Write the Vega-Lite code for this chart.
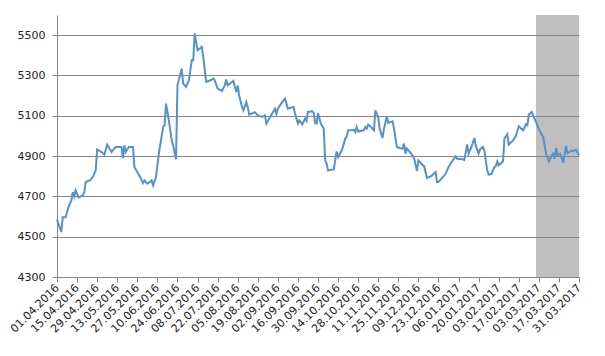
{
  "$schema": "https://vega.github.io/schema/vega-lite/v6.json",
  "autosize": {"type": "none"},
  "width": 522,
  "height": 262,
  "padding": {"left": 57, "top": 15, "right": 26, "bottom": 79},
  "background": "white",
  "config": {
    "view": {"stroke": null},
    "font": "DejaVu Sans",
    "axis": {
      "labelFont": "DejaVu Sans",
      "labelFontSize": 11,
      "labelColor": "#222222",
      "domainColor": "#868686",
      "tickColor": "#868686",
      "gridColor": "#868686",
      "title": null
    }
  },
  "datasets": {
    "shade": [{"date": "2017/03/01", "end": "2017/03/31"}],
    "series": [
      {"date": "2016/04/01", "value": 4586},
      {"date": "2016/04/04", "value": 4522},
      {"date": "2016/04/05", "value": 4597},
      {"date": "2016/04/07", "value": 4597},
      {"date": "2016/04/09", "value": 4647},
      {"date": "2016/04/11", "value": 4680},
      {"date": "2016/04/12", "value": 4721},
      {"date": "2016/04/13", "value": 4700},
      {"date": "2016/04/14", "value": 4730},
      {"date": "2016/04/16", "value": 4695},
      {"date": "2016/04/19", "value": 4705},
      {"date": "2016/04/20", "value": 4720},
      {"date": "2016/04/21", "value": 4771},
      {"date": "2016/04/24", "value": 4779},
      {"date": "2016/04/26", "value": 4796},
      {"date": "2016/04/28", "value": 4829},
      {"date": "2016/04/29", "value": 4933},
      {"date": "2016/05/02", "value": 4920},
      {"date": "2016/05/04", "value": 4907},
      {"date": "2016/05/06", "value": 4957},
      {"date": "2016/05/09", "value": 4920},
      {"date": "2016/05/11", "value": 4938},
      {"date": "2016/05/12", "value": 4945},
      {"date": "2016/05/16", "value": 4945},
      {"date": "2016/05/17", "value": 4890},
      {"date": "2016/05/18", "value": 4953},
      {"date": "2016/05/19", "value": 4920},
      {"date": "2016/05/21", "value": 4945},
      {"date": "2016/05/24", "value": 4945},
      {"date": "2016/05/25", "value": 4845},
      {"date": "2016/05/29", "value": 4796},
      {"date": "2016/05/31", "value": 4766},
      {"date": "2016/06/01", "value": 4779},
      {"date": "2016/06/03", "value": 4763},
      {"date": "2016/06/06", "value": 4779},
      {"date": "2016/06/07", "value": 4754},
      {"date": "2016/06/09", "value": 4796},
      {"date": "2016/06/11", "value": 4912},
      {"date": "2016/06/14", "value": 5044},
      {"date": "2016/06/15", "value": 5053},
      {"date": "2016/06/16", "value": 5160},
      {"date": "2016/06/18", "value": 5077},
      {"date": "2016/06/20", "value": 4978},
      {"date": "2016/06/21", "value": 4953},
      {"date": "2016/06/23", "value": 4884},
      {"date": "2016/06/24", "value": 5251},
      {"date": "2016/06/27", "value": 5334},
      {"date": "2016/06/28", "value": 5260},
      {"date": "2016/06/30", "value": 5243},
      {"date": "2016/07/02", "value": 5276},
      {"date": "2016/07/04", "value": 5376},
      {"date": "2016/07/05", "value": 5376},
      {"date": "2016/07/06", "value": 5508},
      {"date": "2016/07/08", "value": 5425},
      {"date": "2016/07/11", "value": 5442},
      {"date": "2016/07/12", "value": 5392},
      {"date": "2016/07/14", "value": 5268},
      {"date": "2016/07/17", "value": 5276},
      {"date": "2016/07/19", "value": 5285},
      {"date": "2016/07/20", "value": 5276},
      {"date": "2016/07/22", "value": 5235},
      {"date": "2016/07/25", "value": 5223},
      {"date": "2016/07/27", "value": 5251},
      {"date": "2016/07/28", "value": 5280},
      {"date": "2016/07/29", "value": 5251},
      {"date": "2016/08/02", "value": 5273},
      {"date": "2016/08/04", "value": 5218},
      {"date": "2016/08/05", "value": 5251},
      {"date": "2016/08/06", "value": 5202},
      {"date": "2016/08/08", "value": 5144},
      {"date": "2016/08/09", "value": 5127},
      {"date": "2016/08/11", "value": 5168},
      {"date": "2016/08/12", "value": 5144},
      {"date": "2016/08/13", "value": 5106},
      {"date": "2016/08/16", "value": 5114},
      {"date": "2016/08/17", "value": 5118},
      {"date": "2016/08/19", "value": 5102},
      {"date": "2016/08/22", "value": 5094},
      {"date": "2016/08/24", "value": 5102},
      {"date": "2016/08/25", "value": 5061},
      {"date": "2016/08/27", "value": 5086},
      {"date": "2016/08/31", "value": 5135},
      {"date": "2016/09/01", "value": 5110},
      {"date": "2016/09/02", "value": 5135},
      {"date": "2016/09/05", "value": 5168},
      {"date": "2016/09/07", "value": 5185},
      {"date": "2016/09/09", "value": 5135},
      {"date": "2016/09/13", "value": 5144},
      {"date": "2016/09/14", "value": 5110},
      {"date": "2016/09/16", "value": 5061},
      {"date": "2016/09/17", "value": 5077},
      {"date": "2016/09/19", "value": 5057},
      {"date": "2016/09/21", "value": 5086},
      {"date": "2016/09/22", "value": 5075},
      {"date": "2016/09/23", "value": 5119},
      {"date": "2016/09/26", "value": 5122},
      {"date": "2016/09/27", "value": 5114},
      {"date": "2016/09/28", "value": 5064},
      {"date": "2016/09/29", "value": 5061},
      {"date": "2016/09/30", "value": 5114},
      {"date": "2016/10/02", "value": 5061},
      {"date": "2016/10/04", "value": 5036},
      {"date": "2016/10/05", "value": 4879},
      {"date": "2016/10/06", "value": 4863},
      {"date": "2016/10/07", "value": 4829},
      {"date": "2016/10/11", "value": 4834},
      {"date": "2016/10/13", "value": 4923},
      {"date": "2016/10/14", "value": 4895},
      {"date": "2016/10/16", "value": 4920},
      {"date": "2016/10/17", "value": 4937},
      {"date": "2016/10/19", "value": 4987},
      {"date": "2016/10/20", "value": 4995},
      {"date": "2016/10/21", "value": 5028},
      {"date": "2016/10/24", "value": 5028},
      {"date": "2016/10/25", "value": 5031},
      {"date": "2016/10/26", "value": 5019},
      {"date": "2016/10/27", "value": 5044},
      {"date": "2016/10/28", "value": 5022},
      {"date": "2016/11/01", "value": 5028},
      {"date": "2016/11/02", "value": 5044},
      {"date": "2016/11/03", "value": 5036},
      {"date": "2016/11/04", "value": 5056},
      {"date": "2016/11/06", "value": 5044},
      {"date": "2016/11/08", "value": 5028},
      {"date": "2016/11/09", "value": 5127},
      {"date": "2016/11/11", "value": 5094},
      {"date": "2016/11/12", "value": 5036},
      {"date": "2016/11/14", "value": 4990},
      {"date": "2016/11/15", "value": 5036},
      {"date": "2016/11/17", "value": 5097},
      {"date": "2016/11/18", "value": 5064},
      {"date": "2016/11/21", "value": 5072},
      {"date": "2016/11/22", "value": 5036},
      {"date": "2016/11/24", "value": 4945},
      {"date": "2016/11/26", "value": 4940},
      {"date": "2016/11/28", "value": 4937},
      {"date": "2016/11/29", "value": 4962},
      {"date": "2016/11/30", "value": 4912},
      {"date": "2016/12/01", "value": 4937},
      {"date": "2016/12/04", "value": 4912},
      {"date": "2016/12/06", "value": 4890},
      {"date": "2016/12/08", "value": 4826},
      {"date": "2016/12/09", "value": 4879},
      {"date": "2016/12/11", "value": 4862},
      {"date": "2016/12/13", "value": 4850},
      {"date": "2016/12/15", "value": 4791},
      {"date": "2016/12/18", "value": 4801},
      {"date": "2016/12/21", "value": 4821},
      {"date": "2016/12/22", "value": 4771},
      {"date": "2016/12/23", "value": 4771},
      {"date": "2016/12/26", "value": 4796},
      {"date": "2016/12/28", "value": 4812},
      {"date": "2016/12/30", "value": 4845},
      {"date": "2017/01/02", "value": 4879},
      {"date": "2017/01/04", "value": 4899},
      {"date": "2017/01/05", "value": 4887},
      {"date": "2017/01/09", "value": 4884},
      {"date": "2017/01/10", "value": 4880},
      {"date": "2017/01/12", "value": 4958},
      {"date": "2017/01/13", "value": 4912},
      {"date": "2017/01/15", "value": 4945},
      {"date": "2017/01/17", "value": 4990},
      {"date": "2017/01/18", "value": 4953},
      {"date": "2017/01/20", "value": 4912},
      {"date": "2017/01/21", "value": 4933},
      {"date": "2017/01/23", "value": 4945},
      {"date": "2017/01/24", "value": 4928},
      {"date": "2017/01/26", "value": 4829},
      {"date": "2017/01/27", "value": 4808},
      {"date": "2017/01/29", "value": 4812},
      {"date": "2017/01/31", "value": 4845},
      {"date": "2017/02/01", "value": 4850},
      {"date": "2017/02/02", "value": 4873},
      {"date": "2017/02/03", "value": 4853},
      {"date": "2017/02/06", "value": 4874},
      {"date": "2017/02/07", "value": 4987},
      {"date": "2017/02/09", "value": 5008},
      {"date": "2017/02/10", "value": 4957},
      {"date": "2017/02/13", "value": 4978},
      {"date": "2017/02/15", "value": 4999},
      {"date": "2017/02/17", "value": 5048},
      {"date": "2017/02/20", "value": 5028},
      {"date": "2017/02/22", "value": 5058},
      {"date": "2017/02/23", "value": 5053},
      {"date": "2017/02/24", "value": 5106},
      {"date": "2017/02/26", "value": 5119},
      {"date": "2017/02/28", "value": 5086},
      {"date": "2017/03/03", "value": 5036},
      {"date": "2017/03/04", "value": 5019},
      {"date": "2017/03/06", "value": 4995},
      {"date": "2017/03/08", "value": 4912},
      {"date": "2017/03/10", "value": 4874},
      {"date": "2017/03/12", "value": 4903},
      {"date": "2017/03/13", "value": 4912},
      {"date": "2017/03/14", "value": 4887},
      {"date": "2017/03/15", "value": 4940},
      {"date": "2017/03/16", "value": 4905},
      {"date": "2017/03/18", "value": 4912},
      {"date": "2017/03/20", "value": 4866},
      {"date": "2017/03/22", "value": 4950},
      {"date": "2017/03/23", "value": 4915},
      {"date": "2017/03/26", "value": 4928},
      {"date": "2017/03/27", "value": 4925},
      {"date": "2017/03/29", "value": 4932},
      {"date": "2017/03/31", "value": 4904}
    ]
  },
  "encoding": {
    "x": {
      "field": "date",
      "type": "temporal",
      "scale": {
        "domain": [
          {"year": 2016, "month": 4, "date": 1},
          {"year": 2017, "month": 3, "date": 31}
        ],
        "nice": false
      },
      "axis": {
        "values": [
          {"year": 2016, "month": 4, "date": 1},
          {"year": 2016, "month": 4, "date": 15},
          {"year": 2016, "month": 4, "date": 29},
          {"year": 2016, "month": 5, "date": 13},
          {"year": 2016, "month": 5, "date": 27},
          {"year": 2016, "month": 6, "date": 10},
          {"year": 2016, "month": 6, "date": 24},
          {"year": 2016, "month": 7, "date": 8},
          {"year": 2016, "month": 7, "date": 22},
          {"year": 2016, "month": 8, "date": 5},
          {"year": 2016, "month": 8, "date": 19},
          {"year": 2016, "month": 9, "date": 2},
          {"year": 2016, "month": 9, "date": 16},
          {"year": 2016, "month": 9, "date": 30},
          {"year": 2016, "month": 10, "date": 14},
          {"year": 2016, "month": 10, "date": 28},
          {"year": 2016, "month": 11, "date": 11},
          {"year": 2016, "month": 11, "date": 25},
          {"year": 2016, "month": 12, "date": 9},
          {"year": 2016, "month": 12, "date": 23},
          {"year": 2017, "month": 1, "date": 6},
          {"year": 2017, "month": 1, "date": 20},
          {"year": 2017, "month": 2, "date": 3},
          {"year": 2017, "month": 2, "date": 17},
          {"year": 2017, "month": 3, "date": 3},
          {"year": 2017, "month": 3, "date": 17},
          {"year": 2017, "month": 3, "date": 31}
        ],
        "format": "%d.%m.%Y",
        "labelAngle": -45,
        "labelAlign": "right",
        "labelBaseline": "middle",
        "labelPadding": 4,
        "labelOverlap": false,
        "labelSeparation": 0,
        "labelBound": false,
        "labelFlush": false,
        "tickSize": 5,
        "grid": false
      }
    }
  },
  "layer": [
    {
      "data": {"name": "shade"},
      "mark": {"type": "rect", "color": "#7f7f7f", "opacity": 0.5},
      "encoding": {
        "x2": {"field": "end"}
      }
    },
    {
      "data": {"name": "series"},
      "mark": {"type": "line", "color": "#5592cd", "strokeWidth": 2, "interpolate": "linear"},
      "encoding": {
        "y": {
          "field": "value",
          "type": "quantitative",
          "scale": {"domain": [4300, 5600], "nice": false, "zero": false},
          "axis": {
            "values": [4300, 4500, 4700, 4900, 5100, 5300, 5500],
            "format": "d",
            "grid": true,
            "tickSize": 5,
            "labelPadding": 7,
            "labelFlush": false
          }
        }
      }
    }
  ]
}
